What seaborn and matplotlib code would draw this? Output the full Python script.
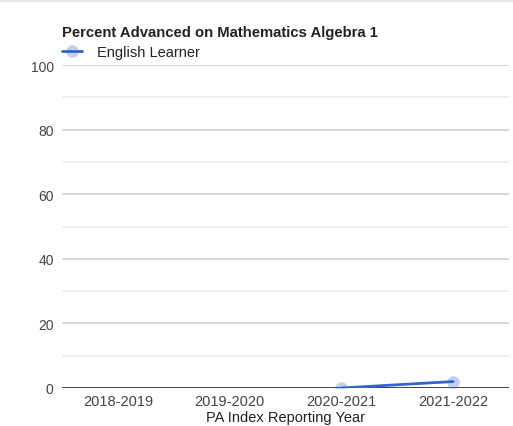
import numpy as np
import pandas as pd
import matplotlib.pyplot as plt
import seaborn as sns
from matplotlib.lines import Line2D

# ------- chart data -------
years = ["2018-2019", "2019-2020", "2020-2021", "2021-2022"]
english_learner = [np.nan, np.nan, 0.0, 2.0]
series_name = "English Learner"
title = "Percent Advanced on Mathematics Algebra 1"
x_label = "PA Index Reporting Year"
# --------------------------

line_color = "#3366cc"

sns.set_theme(style="white")
plt.rcParams['font.family'] = ['Liberation Sans', 'DejaVu Sans']

df = pd.DataFrame({"pos": np.arange(len(years)), "value": english_learner})

fig = plt.figure(figsize=(5.13, 4.27), dpi=100)
ax = fig.add_axes([62 / 513, 38 / 427, 447 / 513, 323 / 427])

# light minor gridlines, darker major ones
for v in np.arange(10, 100, 20):
    ax.axhline(v, color="#ebebeb", lw=1.1, zorder=0)
for v in np.arange(20, 101, 20):
    ax.axhline(v, color="#cccccc", lw=1.1, zorder=0)
ax.axhline(0, color="#333333", lw=1.3, zorder=1)

sns.lineplot(data=df, x="pos", y="value", color=line_color, lw=2, ax=ax,
             zorder=3, legend=False)
ax.plot(df["pos"], df["value"], "o", ms=9, color=line_color, alpha=0.3,
        mec="none", zorder=4)

ax.set_xlim(-0.5, len(years) - 0.5)
ax.set_ylim(0, 100)
ax.set_xticks(df["pos"])
ax.set_xticklabels(years, fontsize=10.5, color="#444444")
ax.set_yticks(np.arange(0, 101, 20))
ax.set_yticklabels([str(v) for v in range(0, 101, 20)], fontsize=10, color="#444444")
ax.tick_params(axis="both", length=0, pad=6)
ax.tick_params(axis="x", pad=4)
ax.set_xlabel(x_label, fontsize=10.5, color="#222222", labelpad=2)
ax.set_ylabel("")
for s in ax.spines.values():
    s.set_visible(False)

fig.text(62 / 513, 1 - 33 / 427, title, fontsize=10.7, fontweight="bold",
         color="#222222", va="center", ha="left")

handle = Line2D([0], [0], color=line_color, lw=2, marker="o", ms=9,
                markerfacecolor=(0.2, 0.4, 0.8, 0.3), mec="none")
fig.legend([handle], [series_name], loc="center left",
           bbox_to_anchor=(56 / 513, 1 - 53 / 427), frameon=False,
           fontsize=10.5, handlelength=1.4, handletextpad=1.0,
           labelcolor="#222222", borderaxespad=0)

# faint card border at the top
fig.add_artist(Line2D([0, 1], [1 - 2 / 427, 1 - 2 / 427], color="#e6e6e6", lw=1.5))

plt.savefig("out.png", dpi=100)
